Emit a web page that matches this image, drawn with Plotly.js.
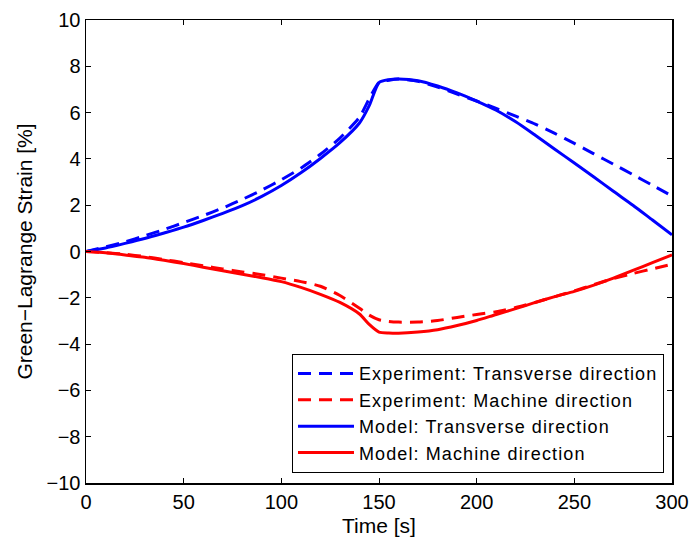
<!DOCTYPE html>
<html>
<head>
<meta charset="utf-8">
<script src="https://cdn.plot.ly/plotly-3.0.1.min.js"></script>
<style>html,body{margin:0;padding:0;background:#fff}#chart{width:694px;height:542px}
.legendtext{letter-spacing:1.1px}</style>
</head>
<body>
<div id="chart"></div>
<script>
const time = [0,10,20,30,40,50,60,70,80,90,100,110,120,130,140,145,150,155,160,170,180,190,200,210,220,230,240,250,260,270,280,290,300];
const expTransverse = [0,0.2,0.42,0.68,0.95,1.25,1.55,1.88,2.25,2.65,3.1,3.6,4.2,4.9,5.8,6.6,7.3,7.4,7.45,7.35,7.1,6.8,6.5,6.18,5.85,5.5,5.1,4.67,4.22,3.77,3.32,2.86,2.4];
const expMachine = [0,-0.05,-0.12,-0.22,-0.35,-0.48,-0.62,-0.75,-0.88,-1.0,-1.15,-1.3,-1.5,-1.9,-2.45,-2.75,-2.95,-3.02,-3.05,-3.05,-2.98,-2.85,-2.72,-2.6,-2.42,-2.2,-1.95,-1.7,-1.43,-1.17,-0.95,-0.75,-0.55];
const modelTransverse = [0,0.15,0.35,0.56,0.8,1.05,1.34,1.65,1.98,2.38,2.85,3.4,4.02,4.7,5.55,6.3,7.3,7.42,7.45,7.38,7.15,6.85,6.5,6.1,5.6,5.02,4.42,3.82,3.22,2.6,2.0,1.36,0.72];
const modelMachine = [0,-0.05,-0.15,-0.25,-0.38,-0.52,-0.68,-0.83,-0.98,-1.13,-1.3,-1.55,-1.85,-2.2,-2.7,-3.15,-3.48,-3.52,-3.53,-3.48,-3.38,-3.2,-2.98,-2.72,-2.47,-2.2,-1.95,-1.72,-1.45,-1.15,-0.82,-0.48,-0.15];

const names = ['Experiment: Transverse direction','Experiment: Machine direction','Model: Transverse direction','Model: Machine direction'];
const fam = '"Liberation Sans", Arial, sans-serif';
const tickFont = {family:fam, size:20, color:'#000'};
const titleFont = {family:fam, size:21, color:'#000'};
const legendFont = {family:fam, size:18, color:'#000'};
const dashStyle = '13px,8px';

const traces = [
  {x:time, y:expTransverse, name:names[0], mode:'lines', line:{color:'#0000ff', width:3, dash:dashStyle, shape:'spline', smoothing:0.6}},
  {x:time, y:expMachine, name:names[1], mode:'lines', line:{color:'#ff0000', width:3, dash:dashStyle, shape:'spline', smoothing:0.6}},
  {x:time, y:modelTransverse, name:names[2], mode:'lines', line:{color:'#0000ff', width:3, shape:'spline', smoothing:0.6}},
  {x:time, y:modelMachine, name:names[3], mode:'lines', line:{color:'#ff0000', width:3, shape:'spline', smoothing:0.6}}
];

const axisCommon = {
  showgrid:false, zeroline:false, showline:true, mirror:'ticks',
  linecolor:'#000', linewidth:1.5, ticks:'inside', ticklen:5, tickwidth:1, tickcolor:'#000',
  tickfont:tickFont
};

const layout = {
  width:694, height:542,
  margin:{l:86, r:22, t:20, b:59},
  paper_bgcolor:'#fff', plot_bgcolor:'#fff',
  font:tickFont,
  showlegend:true,
  xaxis:Object.assign({}, axisCommon, {range:[0,300], tickvals:[0,50,100,150,200,250,300], title:{text:'Time [s]', font:titleFont, standoff:7}}),
  yaxis:Object.assign({}, axisCommon, {range:[-10,10], tickvals:[-10,-8,-6,-4,-2,0,2,4,6,8,10], ticktext:['\u221210','\u22128','\u22126','\u22124','\u22122','0','2','4','6','8','10'], title:{text:'Green\u2212Lagrange Strain [%]', font:titleFont, standoff:8}}),
  legend:{x:0.986, y:0.0216, xanchor:'right', yanchor:'bottom', bgcolor:'#fff', bordercolor:'#000', borderwidth:1.2, font:legendFont, tracegroupgap:0, itemwidth:56}
};

Plotly.newPlot('chart', traces, layout, {staticPlot:true, displayModeBar:false});
</script>
</body>
</html>
